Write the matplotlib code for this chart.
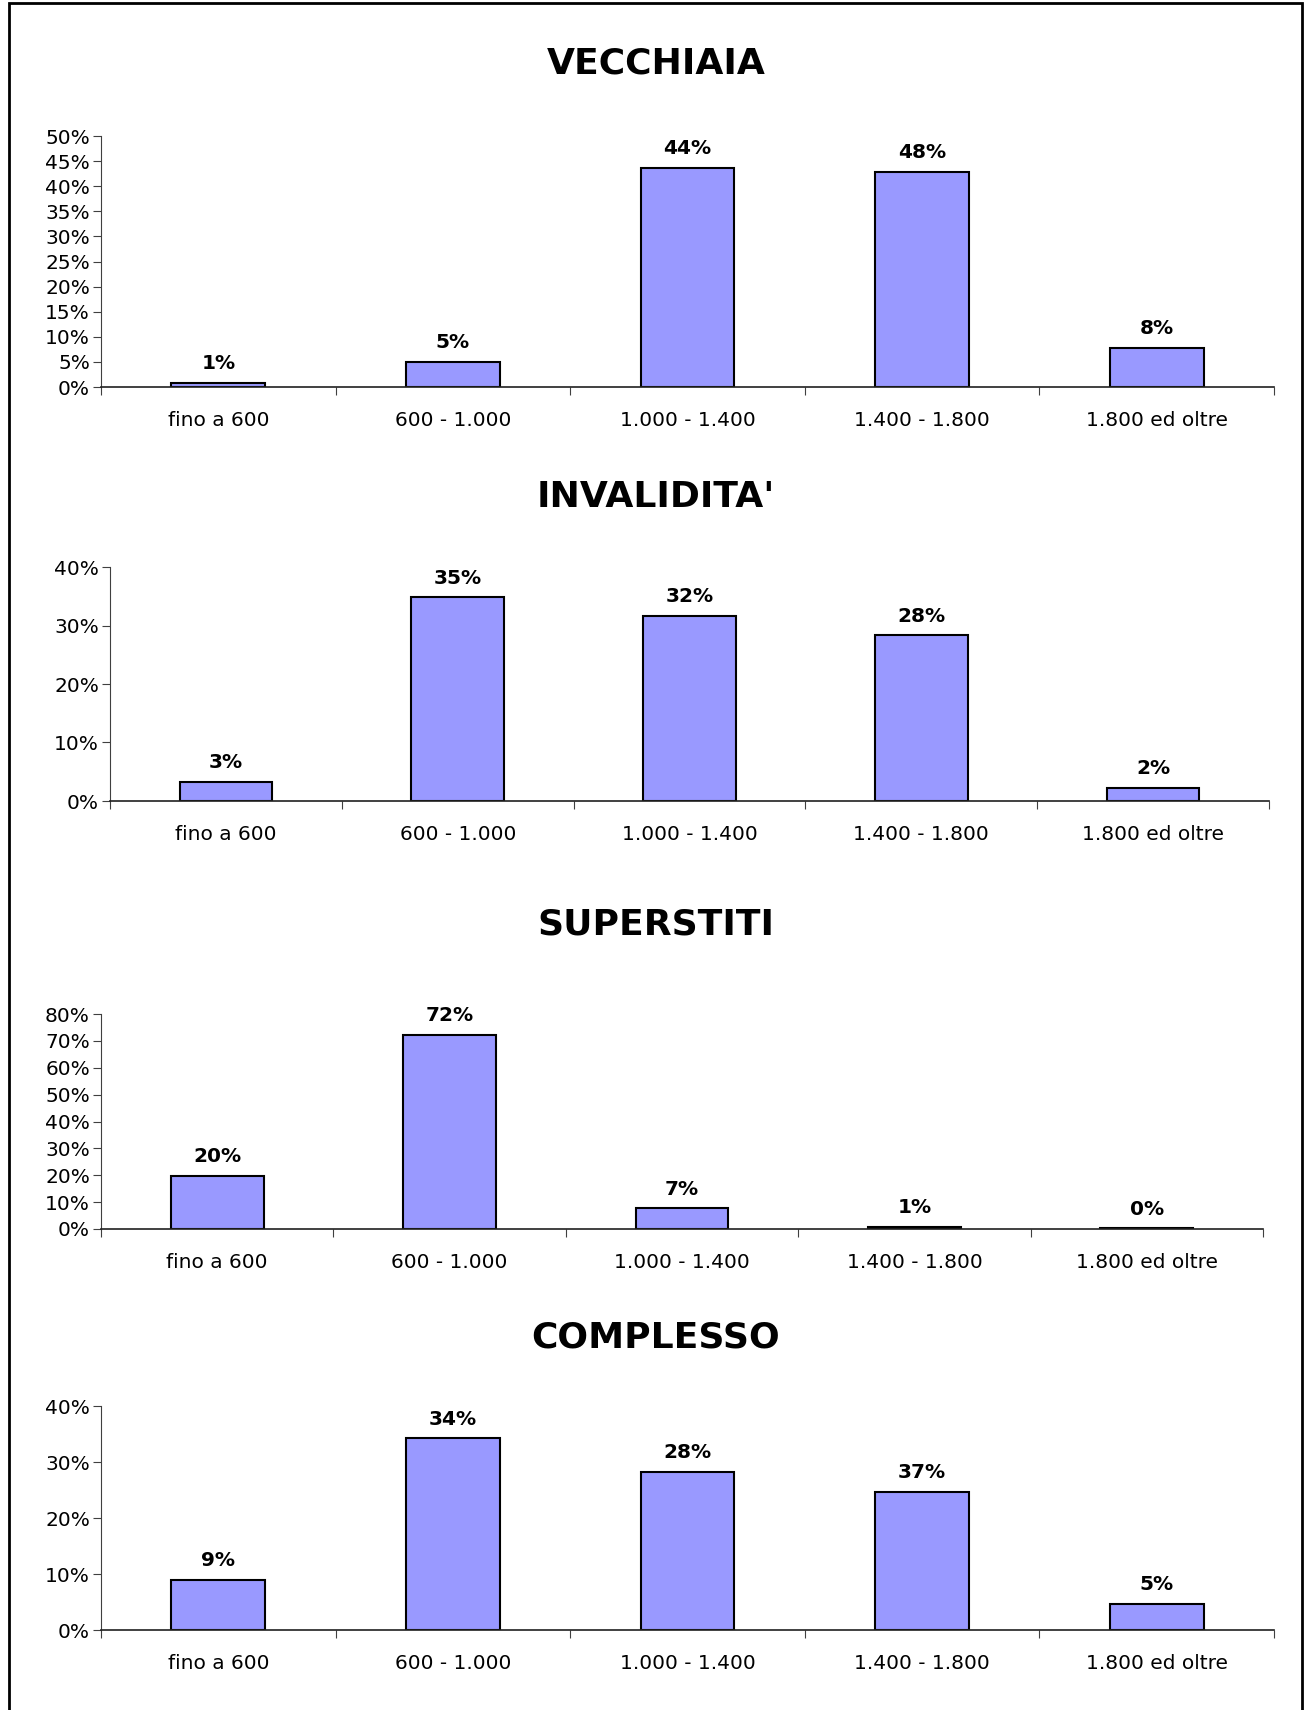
import matplotlib.pyplot as plt
from matplotlib.patches import Rectangle

categorie = ["fino a 600", "600 - 1.000", "1.000 - 1.400", "1.400 - 1.800", "1.800 ed oltre"]

titoli = ["VECCHIAIA", "INVALIDITA'", "SUPERSTITI", "COMPLESSO"]

# altezze delle barre e etichette stampate sopra
vecchiaia = [0.8, 5.0, 43.7, 42.9, 7.8]
vecchiaia_lab = ["1%", "5%", "44%", "48%", "8%"]

invalidita = [3.3, 34.8, 31.6, 28.3, 2.2]
invalidita_lab = ["3%", "35%", "32%", "28%", "2%"]

superstiti = [19.8, 72.3, 7.7, 0.8, 0.2]
superstiti_lab = ["20%", "72%", "7%", "1%", "0%"]

complesso = [8.9, 34.2, 28.2, 24.7, 4.7]
complesso_lab = ["9%", "34%", "28%", "37%", "5%"]

serie = [vecchiaia, invalidita, superstiti, complesso]
etichette = [vecchiaia_lab, invalidita_lab, superstiti_lab, complesso_lab]
ymax = [50, 40, 80, 40]
ystep = [5, 10, 10, 10]

W, H = 1306, 1710
fig = plt.figure(figsize=(W / 100, H / 100), dpi=100)
plt.rcParams['font.family'] = ['DejaVu Sans']

# bordo esterno (senza lato inferiore visibile)
fig.patches.append(Rectangle((9 / W, -0.01), (1302 - 9) / W, 1.01 - 3 / H, transform=fig.transFigure,
                             fill=False, edgecolor="black", linewidth=2))

# posizioni in pixel: left, right, y0, ytop, titolo_y
pos = [
    (101, 1274, 387, 136, 63),
    (110, 1269, 801, 567, 497),
    (101, 1263, 1229, 1014, 924),
    (101, 1274, 1630, 1406, 1337),
]

x = list(range(len(categorie)))

for i in range(4):
    l, r, y0, yt, ty = pos[i]
    ax = fig.add_axes([l / W, 1 - y0 / H, (r - l) / W, (y0 - yt) / H])
    ax.bar(x, serie[i], width=0.4, color="#9999FF", edgecolor="black", linewidth=1.5)
    ax.set_xlim(-0.5, 4.5)
    ax.set_ylim(0, ymax[i])
    ax.set_yticks(range(0, ymax[i] + 1, ystep[i]))
    ax.set_yticklabels([f"{v}%" for v in range(0, ymax[i] + 1, ystep[i])], fontsize=14.5)
    ax.set_xticks([v - 0.5 for v in range(6)])
    ax.set_xticklabels([])
    ax.set_xticks(x, minor=True)
    ax.set_xticklabels(categorie, minor=True, fontsize=14.5)
    ax.tick_params(axis="x", which="major", length=6, direction="out", color="#404040")
    ax.tick_params(axis="x", which="minor", length=0, pad=17)
    ax.tick_params(axis="y", length=6, direction="out", color="#404040", pad=2)
    for s in ["top", "right"]:
        ax.spines[s].set_visible(False)
    ax.spines["left"].set_color("#404040")
    ax.spines["bottom"].set_color("#202020")
    ax.spines["bottom"].set_linewidth(1.2)
    for xi, v, lab in zip(x, serie[i], etichette[i]):
        ax.annotate(lab, (xi, v), xytext=(0, 7), textcoords="offset points",
                    ha="center", va="bottom", fontsize=14.5, fontweight="bold")
    fig.text(656 / W, 1 - ty / H, titoli[i], ha="center", va="center",
             fontsize=26, fontweight="bold")

fig.savefig("out.png", dpi=100)
